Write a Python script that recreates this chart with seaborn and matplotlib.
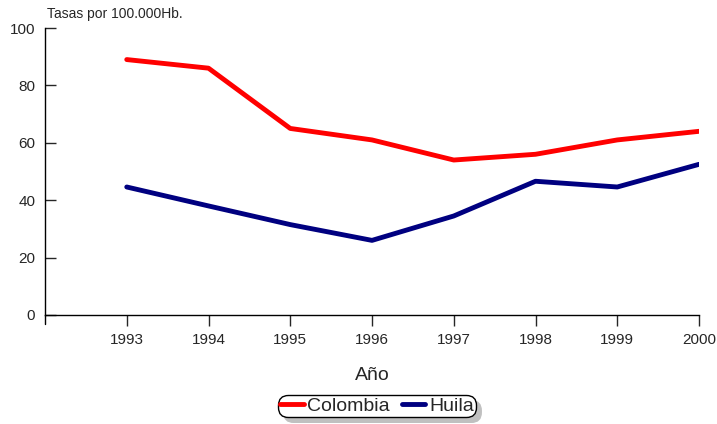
import matplotlib
matplotlib.use("Agg")
import matplotlib.pyplot as plt
import seaborn as sns
import pandas as pd
from matplotlib.lines import Line2D

## data
years = [1993, 1994, 1995, 1996, 1997, 1998, 1999, 2000]
colombia = [89, 86, 65, 61, 54, 56, 61, 64]
huila = [44.6, 38, 31.5, 26, 34.5, 46.6, 44.6, 52.5]

df = pd.DataFrame({
    "Año": years * 2,
    "Tasa": colombia + huila,
    "Serie": ["Colombia"] * len(years) + ["Huila"] * len(years),
})

sns.set_style("white")
plt.rcParams['font.family'] = ['Liberation Sans', 'DejaVu Sans']

fig = plt.figure(figsize=(7.17, 4.24), dpi=100)
ax = fig.add_axes([45 / 717, 1 - 315 / 424, (699 - 45) / 717, (315 - 28) / 424])

sns.lineplot(data=df, x="Año", y="Tasa", hue="Serie",
             palette={"Colombia": "#ff0000", "Huila": "#000080"},
             linewidth=3.5, ax=ax, legend=False)

ax.set_xlim(1992, 2000)
ax.set_ylim(0, 100)
ax.set_xticks(years)
ax.set_yticks(range(0, 101, 20))
ax.tick_params(axis="y", direction="in", length=8, width=1, labelsize=11, pad=7, left=True)
ax.tick_params(axis="x", direction="out", length=8, width=1, labelsize=11, pad=5, bottom=True)
for s in ["top", "right"]:
    ax.spines[s].set_visible(False)
for s in ["left", "bottom"]:
    ax.spines[s].set_color("black")
    ax.spines[s].set_linewidth(1)
# extra tick at the origin
ax.plot([1992, 1992], [0, -3.3], color="black", lw=1, clip_on=False)

ax.set_xlabel("Año", fontsize=14, labelpad=14)
ax.set_ylabel("")
fig.text(47 / 717, 1 - 14 / 424, "Tasas por 100.000Hb.", fontsize=10, va="center")

handles = [Line2D([], [], color="#ff0000", lw=3.5), Line2D([], [], color="#000080", lw=3.5)]
leg = fig.legend(handles, ["Colombia", "Huila"], loc="center", bbox_to_anchor=(377 / 717, 1 - 406 / 424),
                 ncol=2, fontsize=14, frameon=True, fancybox=True,
                 shadow={"ox": 4, "oy": -4, "color": "#c0c0c0", "alpha": 1},
                 handlelength=1.2, handletextpad=0.2, columnspacing=0.6,
                 borderpad=0.1, borderaxespad=0, edgecolor="black")
leg.get_frame().set_linewidth(1)
leg.get_frame().set_boxstyle("round,pad=0,rounding_size=0.5")

fig.savefig("out.png", dpi=100)
